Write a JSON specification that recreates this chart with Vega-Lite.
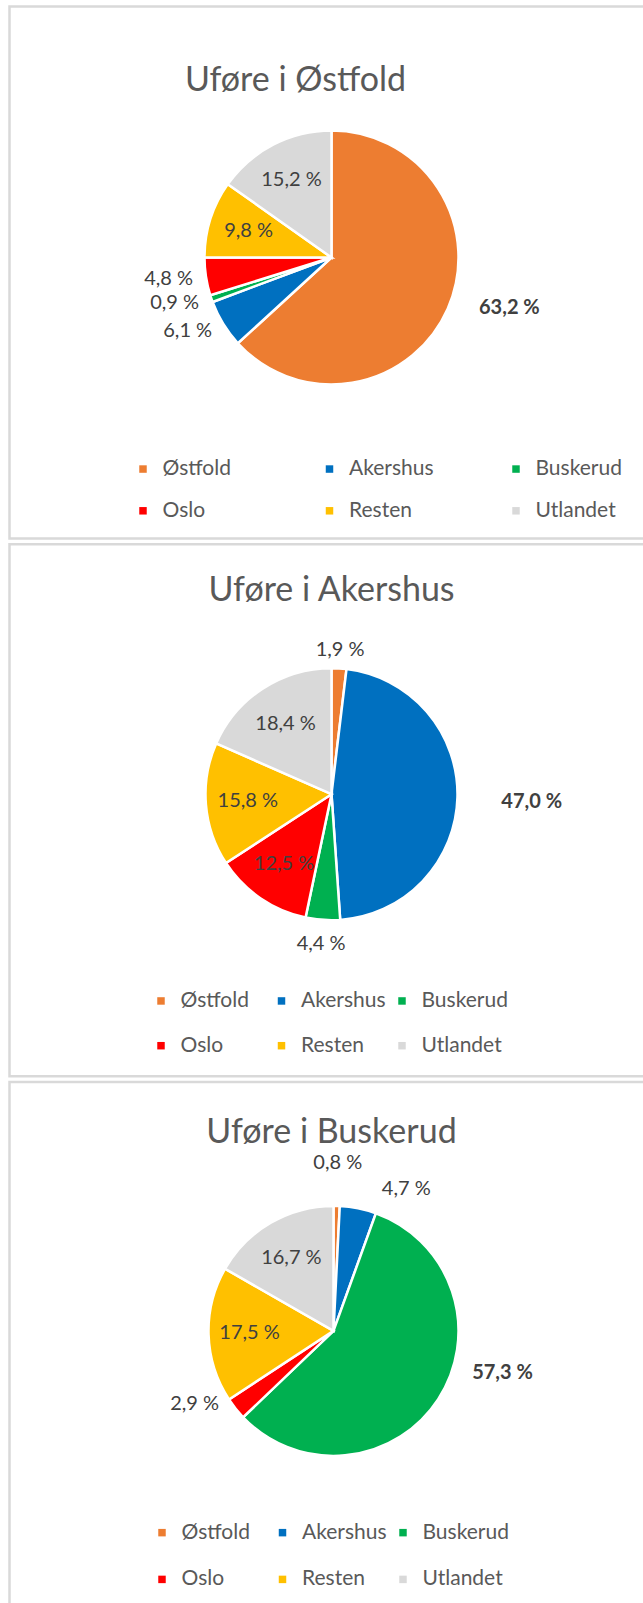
{
  "$schema": "https://vega.github.io/schema/vega-lite/v6.json",
  "background": "white",
  "padding": {"left": 7.5, "top": 4.5, "right": 0, "bottom": 0},
  "spacing": 1.7,
  "config": {
    "view": {"stroke": null},
    "font": "Lato",
    "title": {"font": "Lato", "fontSize": 34, "fontWeight": "normal", "color": "#595959", "anchor": "middle", "baseline": "alphabetic"},
    "legend": {"orient": "none", "columns": 3, "direction": "horizontal", "symbolType": "square", "symbolSize": 56, "symbolStrokeWidth": 0, "labelFont": "Lato", "labelFontSize": 21, "labelColor": "#595959", "labelOffset": 9, "gridAlign": "all", "padding": 0, "labelLimit": 300},
    "text": {"font": "Lato", "fontSize": 20, "fill": "#404040", "baseline": "middle"}
  },
  "datasets": {
    "ostfold": [
      {"n": 1, "region": "Østfold", "value": 63.2, "label": "63,2 %"},
      {"n": 2, "region": "Akershus", "value": 6.1, "label": "6,1 %"},
      {"n": 3, "region": "Buskerud", "value": 0.9, "label": "0,9 %"},
      {"n": 4, "region": "Oslo", "value": 4.8, "label": "4,8 %"},
      {"n": 5, "region": "Resten", "value": 9.8, "label": "9,8 %"},
      {"n": 6, "region": "Utlandet", "value": 15.2, "label": "15,2 %"}
    ],
    "akershus": [
      {"n": 1, "region": "Østfold", "value": 1.9, "label": "1,9 %"},
      {"n": 2, "region": "Akershus", "value": 47.0, "label": "47,0 %"},
      {"n": 3, "region": "Buskerud", "value": 4.4, "label": "4,4 %"},
      {"n": 4, "region": "Oslo", "value": 12.5, "label": "12,5 %"},
      {"n": 5, "region": "Resten", "value": 15.8, "label": "15,8 %"},
      {"n": 6, "region": "Utlandet", "value": 18.4, "label": "18,4 %"}
    ],
    "buskerud": [
      {"n": 1, "region": "Østfold", "value": 0.8, "label": "0,8 %"},
      {"n": 2, "region": "Akershus", "value": 4.7, "label": "4,7 %"},
      {"n": 3, "region": "Buskerud", "value": 57.3, "label": "57,3 %"},
      {"n": 4, "region": "Oslo", "value": 2.9, "label": "2,9 %"},
      {"n": 5, "region": "Resten", "value": 17.5, "label": "17,5 %"},
      {"n": 6, "region": "Utlandet", "value": 16.7, "label": "16,7 %"}
    ],
    "frame": [{}]
  },
  "vconcat": [
    {
      "width": 644, "height": 532,
      "title": {"text": "Uføre i Østfold", "offset": -93, "dx": -36},
      "layer": [
        {"data": {"name": "frame"},
         "mark": {"type": "rect", "filled": false, "stroke": "#d9d9d9", "strokeWidth": 2.5},
         "encoding": {"x": {"value": 0}, "x2": {"value": "width"}, "y": {"value": 0}, "y2": {"value": "height"}}},
        {"data": {"name": "ostfold"},
         "mark": {"type": "arc", "radius": 127, "stroke": "white", "strokeWidth": 2.5, "yOffset": -15},
         "encoding": {
           "theta": {"field": "value", "type": "quantitative", "stack": "normalize"},
           "order": {"field": "n", "type": "quantitative"},
           "color": {"field": "region", "type": "nominal",
             "scale": {"domain": ["Østfold", "Akershus", "Buskerud", "Oslo", "Resten", "Utlandet"], "range": ["#ED7D31", "#0070C0", "#00B050", "#FF0000", "#FFC000", "#D9D9D9"]},
             "legend": {"title": null, "legendX": 123, "legendY": 451.8, "columnPadding": 69.5, "rowPadding": 20}}}},
        {"data": {"name": "ostfold"},
         "mark": {"type": "text", "yOffset": -15, "align": "center"},
         "encoding": {
           "theta": {"field": "value", "type": "quantitative", "stack": "normalize"},
           "order": {"field": "n", "type": "quantitative"},
           "radius": {"value": 87},
           "text": {"condition": {"test": "datum.value >= 9 && datum.value <= 40", "field": "label"}, "value": ""}}},
        {"data": {"name": "ostfold"},
         "mark": {"type": "text", "yOffset": -15, "align": "right"},
         "encoding": {
           "theta": {"field": "value", "type": "quantitative", "stack": "normalize"},
           "order": {"field": "n", "type": "quantitative"},
           "radius": {"value": 140},
           "text": {"condition": {"test": "datum.value < 9", "field": "label"}, "value": ""}}},
        {"data": {"name": "ostfold"},
         "mark": {"type": "text", "yOffset": -15, "align": "left", "fontWeight": "bold", "thetaOffset": -0.083},
         "encoding": {
           "theta": {"field": "value", "type": "quantitative", "stack": "normalize"},
           "order": {"field": "n", "type": "quantitative"},
           "radius": {"value": 156},
           "text": {"condition": {"test": "datum.value > 40", "field": "label"}, "value": ""}}}
      ]
    },
    {
      "width": 644, "height": 532,
      "title": {"text": "Uføre i Akershus", "offset": -65},
      "layer": [
        {"data": {"name": "frame"},
         "mark": {"type": "rect", "filled": false, "stroke": "#d9d9d9", "strokeWidth": 2.5},
         "encoding": {"x": {"value": 0}, "x2": {"value": "width"}, "y": {"value": 0}, "y2": {"value": "height"}}},
        {"data": {"name": "akershus"},
         "mark": {"type": "arc", "radius": 126, "stroke": "white", "strokeWidth": 2.5, "yOffset": -16},
         "encoding": {
           "theta": {"field": "value", "type": "quantitative", "stack": "normalize"},
           "order": {"field": "n", "type": "quantitative"},
           "color": {"field": "region", "type": "nominal",
             "scale": {"domain": ["Østfold", "Akershus", "Buskerud", "Oslo", "Resten", "Utlandet"], "range": ["#ED7D31", "#0070C0", "#00B050", "#FF0000", "#FFC000", "#D9D9D9"]},
             "legend": {"title": null, "legendX": 141, "legendY": 446, "columnPadding": 3.5, "rowPadding": 23}}}},
        {"data": {"name": "akershus"},
         "mark": {"type": "text", "yOffset": -16, "align": "center"},
         "encoding": {
           "theta": {"field": "value", "type": "quantitative", "stack": "normalize"},
           "order": {"field": "n", "type": "quantitative"},
           "radius": {"value": 84},
           "text": {"condition": {"test": "datum.value >= 9 && datum.value <= 40", "field": "label"}, "value": ""}}},
        {"data": {"name": "akershus"},
         "mark": {"type": "text", "yOffset": -16, "align": "center"},
         "encoding": {
           "theta": {"field": "value", "type": "quantitative", "stack": "normalize"},
           "order": {"field": "n", "type": "quantitative"},
           "radius": {"value": 144},
           "text": {"condition": {"test": "datum.value < 3", "field": "label"}, "value": ""}}},
        {"data": {"name": "akershus"},
         "mark": {"type": "text", "yOffset": -16, "align": "center"},
         "encoding": {
           "theta": {"field": "value", "type": "quantitative", "stack": "normalize"},
           "order": {"field": "n", "type": "quantitative"},
           "radius": {"value": 150},
           "text": {"condition": {"test": "datum.value >= 3 && datum.value < 9", "field": "label"}, "value": ""}}},
        {"data": {"name": "akershus"},
         "mark": {"type": "text", "yOffset": -16, "align": "left", "fontWeight": "bold", "thetaOffset": 0.02},
         "encoding": {
           "theta": {"field": "value", "type": "quantitative", "stack": "normalize"},
           "order": {"field": "n", "type": "quantitative"},
           "radius": {"value": 170},
           "text": {"condition": {"test": "datum.value > 40", "field": "label"}, "value": ""}}}
      ]
    },
    {
      "width": 644, "height": 532,
      "title": {"text": "Uføre i Buskerud", "offset": -69},
      "layer": [
        {"data": {"name": "frame"},
         "mark": {"type": "rect", "filled": false, "stroke": "#d9d9d9", "strokeWidth": 2.5},
         "encoding": {"x": {"value": 0}, "x2": {"value": "width"}, "y": {"value": 0}, "y2": {"value": "height"}}},
        {"data": {"name": "buskerud"},
         "mark": {"type": "arc", "radius": 125, "stroke": "white", "strokeWidth": 2.5, "yOffset": -17, "xOffset": 2},
         "encoding": {
           "theta": {"field": "value", "type": "quantitative", "stack": "normalize"},
           "order": {"field": "n", "type": "quantitative"},
           "color": {"field": "region", "type": "nominal",
             "scale": {"domain": ["Østfold", "Akershus", "Buskerud", "Oslo", "Resten", "Utlandet"], "range": ["#ED7D31", "#0070C0", "#00B050", "#FF0000", "#FFC000", "#D9D9D9"]},
             "legend": {"title": null, "legendX": 142, "legendY": 440, "columnPadding": 3.5, "rowPadding": 25}}}},
        {"data": {"name": "buskerud"},
         "mark": {"type": "text", "yOffset": -17, "xOffset": 2, "align": "center"},
         "encoding": {
           "theta": {"field": "value", "type": "quantitative", "stack": "normalize"},
           "order": {"field": "n", "type": "quantitative"},
           "radius": {"value": 84},
           "text": {"condition": {"test": "datum.value >= 9 && datum.value <= 40", "field": "label"}, "value": ""}}},
        {"data": {"name": "buskerud"},
         "mark": {"type": "text", "yOffset": -17, "xOffset": 2, "align": "center"},
         "encoding": {
           "theta": {"field": "value", "type": "quantitative", "stack": "normalize"},
           "order": {"field": "n", "type": "quantitative"},
           "radius": {"value": 168},
           "text": {"condition": {"test": "datum.value < 1.5", "field": "label"}, "value": ""}}},
        {"data": {"name": "buskerud"},
         "mark": {"type": "text", "yOffset": -17, "xOffset": 2, "align": "left", "thetaOffset": 0.13},
         "encoding": {
           "theta": {"field": "value", "type": "quantitative", "stack": "normalize"},
           "order": {"field": "n", "type": "quantitative"},
           "radius": {"value": 150},
           "text": {"condition": {"test": "datum.value >= 4 && datum.value < 9", "field": "label"}, "value": ""}}},
        {"data": {"name": "buskerud"},
         "mark": {"type": "text", "yOffset": -17, "xOffset": 2, "align": "right", "thetaOffset": 0.1},
         "encoding": {
           "theta": {"field": "value", "type": "quantitative", "stack": "normalize"},
           "order": {"field": "n", "type": "quantitative"},
           "radius": {"value": 136},
           "text": {"condition": {"test": "datum.value >= 1.5 && datum.value < 4", "field": "label"}, "value": ""}}},
        {"data": {"name": "buskerud"},
         "mark": {"type": "text", "yOffset": -17, "xOffset": 2, "align": "left", "fontWeight": "bold", "thetaOffset": -0.28},
         "encoding": {
           "theta": {"field": "value", "type": "quantitative", "stack": "normalize"},
           "order": {"field": "n", "type": "quantitative"},
           "radius": {"value": 145},
           "text": {"condition": {"test": "datum.value > 40", "field": "label"}, "value": ""}}}
      ]
    }
  ],
  "resolve": {"scale": {"color": "independent", "theta": "independent"}, "legend": {"color": "independent"}}
}
